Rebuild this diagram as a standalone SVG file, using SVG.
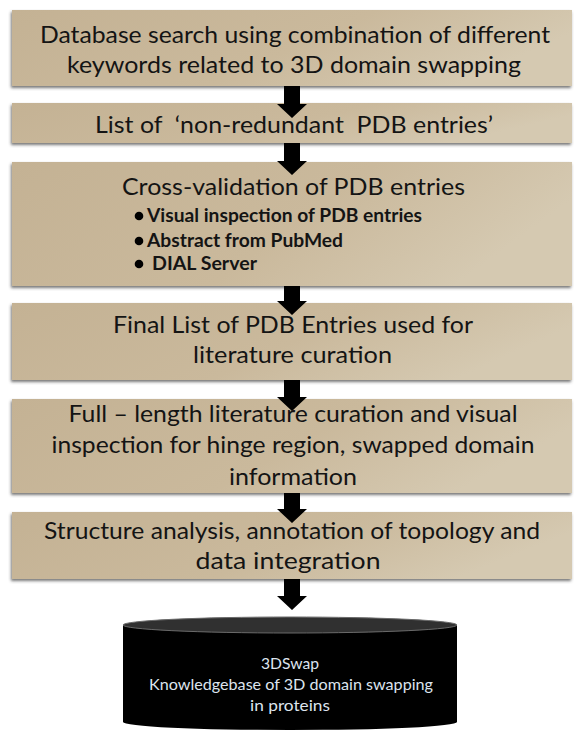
<svg xmlns="http://www.w3.org/2000/svg" width="574" height="730" viewBox="0 0 574 730">
<defs>
<linearGradient id="tan" x1="0" y1="0" x2="1" y2="0.3">
<stop offset="0" stop-color="#c4b294"/>
<stop offset="0.6" stop-color="#cab99c"/>
<stop offset="1" stop-color="#d5c9b1"/>
</linearGradient>
<filter id="sh" x="-5%" y="-10%" width="110%" height="130%">
<feDropShadow dx="-1" dy="2" stdDeviation="1.4" flood-color="#4a4a4a" flood-opacity="0.75"/>
</filter>
<style>
.box{fill:url(#tan);filter:url(#sh);}
.t{font-family:Lato,"Open Sans","Liberation Sans",sans-serif;font-size:24px;fill:#141414;text-anchor:middle;}
.b{font-family:Lato,"Open Sans","Liberation Sans",sans-serif;font-size:18px;font-weight:bold;fill:#141414;}
.c{font-family:Lato,"Open Sans","Liberation Sans",sans-serif;font-size:16px;fill:#dde4ee;text-anchor:middle;}
.arr{fill:#000;}
</style>
</defs>
<rect width="574" height="730" fill="#fff"/>

<g id="n1">
<rect class="box" x="12" y="10" width="560" height="76"/>
<text class="t" x="295" y="43" textLength="510" lengthAdjust="spacingAndGlyphs">Database search using combination of different</text>
<text class="t" x="294" y="73" textLength="454" lengthAdjust="spacingAndGlyphs">keywords related to 3D domain swapping</text>
</g>

<g id="n2">
<rect class="box" x="12" y="103" width="560" height="40"/>
<text class="t" x="294" y="133" textLength="398" lengthAdjust="spacingAndGlyphs" xml:space="preserve">List of  ‘non-redundant  PDB entries’</text>
</g>

<g id="n3">
<rect class="box" x="12" y="162" width="560" height="124"/>
<text class="t" x="293.5" y="195" textLength="343" lengthAdjust="spacingAndGlyphs">Cross-validation of PDB entries</text>
<circle cx="139" cy="216" r="4.3" fill="#000"/>
<text class="b" x="147" y="222" textLength="275" lengthAdjust="spacingAndGlyphs">Visual inspection of PDB entries</text>
<circle cx="139" cy="241" r="4.3" fill="#000"/>
<text class="b" x="147" y="247" textLength="196" lengthAdjust="spacingAndGlyphs">Abstract from PubMed</text>
<circle cx="139" cy="264" r="4.3" fill="#000"/>
<text class="b" x="152" y="270" textLength="105" lengthAdjust="spacingAndGlyphs">DIAL Server</text>
</g>

<g id="n4">
<rect class="box" x="12" y="303" width="560" height="77"/>
<text class="t" x="293" y="333" textLength="360" lengthAdjust="spacingAndGlyphs">Final List of PDB Entries used for</text>
<text class="t" x="292.5" y="363" textLength="199" lengthAdjust="spacingAndGlyphs">literature curation</text>
</g>

<g id="n5">
<rect class="box" x="12" y="399" width="560" height="94"/>
<text class="t" x="293" y="422" textLength="449" lengthAdjust="spacingAndGlyphs">Full – length literature curation and visual</text>
<text class="t" x="293" y="453" textLength="483" lengthAdjust="spacingAndGlyphs">inspection for hinge region, swapped domain</text>
<text class="t" x="293" y="485" textLength="128" lengthAdjust="spacingAndGlyphs">information</text>
</g>

<g id="n6">
<rect class="box" x="12" y="512" width="560" height="67"/>
<text class="t" x="292" y="539" textLength="496" lengthAdjust="spacingAndGlyphs">Structure analysis, annotation of topology and</text>
<text class="t" x="288" y="569" textLength="185" lengthAdjust="spacingAndGlyphs">data integration</text>
</g>

<g id="n7">
<rect x="123" y="625" width="334" height="97" fill="#000"/>
<ellipse cx="290" cy="722" rx="167" ry="8" fill="#000"/>
<ellipse cx="290" cy="625" rx="167" ry="8" fill="#303030" stroke="#6a6a6a" stroke-width="1"/>
<text class="c" x="290" y="669" textLength="58" lengthAdjust="spacingAndGlyphs">3DSwap</text>
<text class="c" x="291" y="690" textLength="284" lengthAdjust="spacingAndGlyphs">Knowledgebase of 3D domain swapping</text>
<text class="c" x="290" y="711" textLength="80" lengthAdjust="spacingAndGlyphs">in proteins</text>
</g>

<g id="connectors">
<path class="arr" d="M284,86 H300 V104 H307 L292,118 L277,104 H284 Z"/>
<path class="arr" d="M284,143 H300 V161 H307 L292,175 L277,161 H284 Z"/>
<path class="arr" d="M284,286 H300 V301 H307 L292,315 L277,301 H284 Z"/>
<path class="arr" d="M284,380 H300 V397 H307 L292,411 L277,397 H284 Z"/>
<path class="arr" d="M284,493 H300 V509 H307 L292,523 L277,509 H284 Z"/>
<path class="arr" d="M284,579 H300 V596 H307 L292,610 L277,596 H284 Z"/>
</g>
</svg>
